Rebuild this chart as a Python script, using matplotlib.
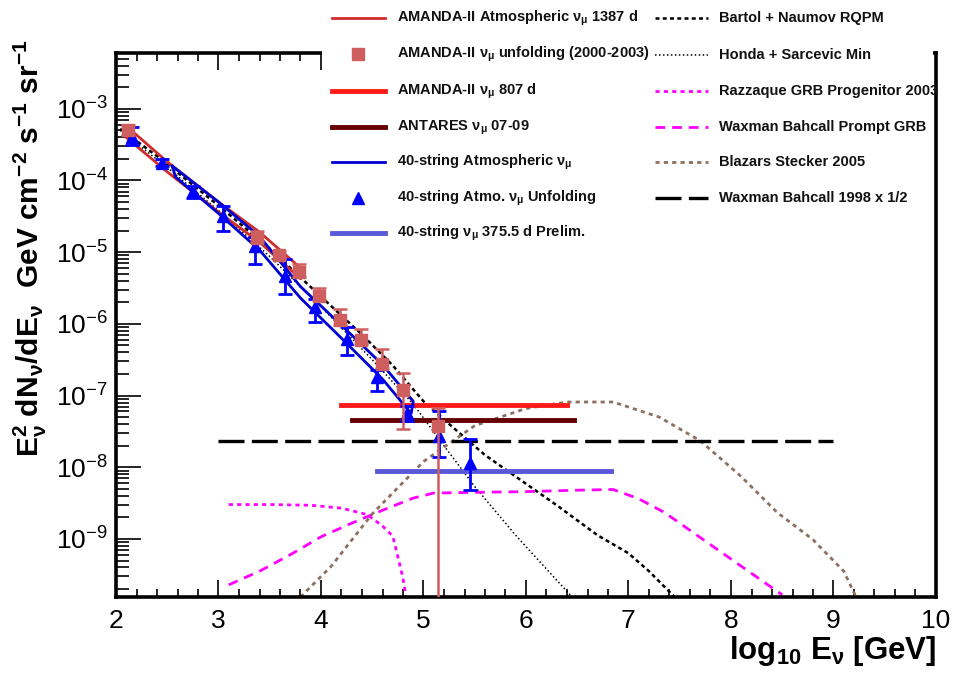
import numpy as np
import matplotlib
matplotlib.use("Agg")
import matplotlib.pyplot as plt
from matplotlib.lines import Line2D
from matplotlib.patches import Rectangle
from matplotlib.ticker import FixedLocator, LogLocator, MultipleLocator, NullFormatter, LogFormatterMathtext

plt.rcParams['font.family'] = ['Liberation Sans', 'DejaVu Sans']
plt.rcParams['mathtext.fontset'] = 'custom'
plt.rcParams['mathtext.rm'] = 'Liberation Sans'
plt.rcParams['mathtext.it'] = 'Liberation Sans'
plt.rcParams['mathtext.bf'] = 'Liberation Sans:bold'
plt.rcParams['mathtext.default'] = 'regular'

# ---------------- data (x = log10 E/GeV, y = log10 flux) ----------------
amanda_atm_x = [2.1, 2.5, 3.0, 3.4, 3.8]
amanda_atm_up = [-3.24, -3.74, -4.30, -4.72, -5.22]
amanda_atm_lo = [-3.40, -3.88, -4.44, -4.86, -5.37]

ic40_atm_x_up = [2.55, 3.0, 3.4, 3.8, 4.2, 4.6, 4.9]
ic40_atm_up = [-3.80, -4.30, -4.78, -5.48, -6.02, -6.57, -7.08]
ic40_atm_x_lo = [2.58, 3.0, 3.4, 3.8, 4.2, 4.6, 4.88]
ic40_atm_lo = [-3.95, -4.46, -4.97, -5.64, -6.20, -6.77, -7.25]

amanda_unf_x = [2.12, 3.38, 3.59, 3.79, 3.98, 4.19, 4.39, 4.60, 4.80, 5.14]
amanda_unf_y = [-3.30, -4.80, -5.04, -5.28, -5.61, -5.95, -6.22, -6.56, -6.92, -7.42]
amanda_unf_hi = [-3.22, -4.70, -4.99, -5.17, -5.50, -5.79, -6.07, -6.35, -6.69, -7.18]
amanda_unf_lo = [-3.36, -4.86, -5.10, -5.34, -5.67, -6.01, -6.28, -6.62, -7.46, -12.0]

ic40_unf_x = [2.16, 2.45, 2.75, 3.04, 3.36, 3.65, 3.94, 4.25, 4.55, 4.84, 5.15, 5.45]
ic40_unf_y = [-3.40, -3.75, -4.15, -4.50, -4.92, -5.33, -5.76, -6.21, -6.74, -7.25, -7.57, -7.94]
ic40_unf_hi = [-3.25, -3.70, -4.08, -4.36, -4.79, -5.10, -5.65, -6.04, -6.65, -7.15, -7.22, -7.61]
ic40_unf_lo = [-3.50, -3.80, -4.24, -4.71, -5.17, -5.58, -5.97, -6.43, -6.94, -7.36, -7.85, -8.32]

amanda807_x = [4.2, 6.4]
amanda807_y = 7.4e-8
antares_x = [4.3, 6.47]
antares_y = 4.6e-8
ic40_lim_x = [4.55, 6.83]
ic40_lim_y = 8.9e-9
wb98_x = [3.0, 9.0]
wb98_y = 2.35e-8

bartol_x = [2.04, 2.4, 3.0, 3.5, 4.0, 4.4, 4.7, 5.0, 5.3, 5.6, 5.9, 6.3, 6.7, 7.0, 7.2, 7.45]
bartol_y = [-3.28, -3.66, -4.35, -4.95, -5.62, -6.15, -6.58, -7.08, -7.46, -7.83, -8.13, -8.53, -8.95, -9.2, -9.45, -9.81]

honda_x = [2.04, 2.5, 3.0, 3.5, 4.0, 4.5, 4.9, 5.2, 5.5, 5.9, 6.2, 6.45]
honda_y = [-3.30, -3.82, -4.42, -5.06, -5.76, -6.50, -7.12, -7.70, -8.27, -8.95, -9.42, -9.81]

razz_x = [3.1, 3.5, 3.9, 4.2, 4.45, 4.6, 4.7, 4.75, 4.8, 4.83]
razz_y = [-8.52, -8.52, -8.53, -8.57, -8.66, -8.82, -8.96, -9.25, -9.55, -9.81]

wbgrb_x = [3.1, 3.4, 3.7, 4.0, 4.3, 4.6, 4.9, 5.1, 5.5, 6.0, 6.5, 6.85, 7.1, 7.35, 7.6, 7.9, 8.2, 8.5]
wbgrb_y = [-9.64, -9.45, -9.22, -8.97, -8.78, -8.60, -8.43, -8.36, -8.35, -8.34, -8.32, -8.31, -8.44, -8.63, -8.88, -9.18, -9.48, -9.78]

blazar_x = [3.8, 4.1, 4.5, 5.0, 5.5, 6.0, 6.4, 6.85, 7.0, 7.3, 7.7, 8.1, 8.45, 8.8, 9.1, 9.22]
blazar_y = [-9.81, -9.38, -8.65, -7.92, -7.42, -7.18, -7.09, -7.09, -7.16, -7.30, -7.63, -8.13, -8.63, -9.01, -9.45, -9.81]

xticks = [2, 3, 4, 5, 6, 7, 8, 9, 10]
yticks = [1e-9, 1e-8, 1e-7, 1e-6, 1e-5, 1e-4, 1e-3]

labels_left = [r"AMANDA-II Atmospheric $\nu_{\mu}$ 1387 d",
               r"AMANDA-II $\nu_{\mu}$ unfolding (2000-2003)",
               r"AMANDA-II $\nu_{\mu}$ 807 d",
               r"ANTARES $\nu_{\mu}$ 07-09",
               r"40-string Atmospheric $\nu_{\mu}$",
               r"40-string Atmo. $\nu_{\mu}$ Unfolding",
               r"40-string $\nu_{\mu}$ 375.5 d Prelim."]
labels_right = ["Bartol + Naumov RQPM",
                "Honda + Sarcevic Min",
                "Razzaque GRB Progenitor 2003",
                "Waxman Bahcall Prompt GRB",
                "Blazars Stecker 2005",
                "Waxman Bahcall 1998 x 1/2"]

# ---------------- styles ----------------
C_AMATM = '#d02c2c'
C_AMUNF = '#cf5f5f'
C_AM807 = '#ff1a1a'
C_ANT = '#660000'
C_IC = '#0000d0'
C_ICTRI = '#0000ff'
C_ICLIM = '#5858d8'
C_MAG = '#ff00ff'
C_BLZ = '#8c7060'

W, H = 954, 675
fig = plt.figure(figsize=(W / 100, H / 100), dpi=100)
ax = fig.add_axes([116 / W, 78 / H, 820 / W, 544 / H])

def p(v):
    return 10 ** np.asarray(v, dtype=float)

# theory curves
ax.plot(honda_x, p(honda_y), color='black', lw=1.1, ls=(0, (1, 1.6)), zorder=2)
ax.plot(bartol_x, p(bartol_y), color='black', lw=1.8, ls=(0, (1.6, 1.3)), zorder=2)
ax.plot(razz_x, p(razz_y), color=C_MAG, lw=2, ls=(0, (1.5, 1.5)), zorder=2)
ax.plot(wbgrb_x, p(wbgrb_y), color=C_MAG, lw=2, ls=(0, (3.5, 2.5)), zorder=2)
ax.plot(blazar_x, p(blazar_y), color=C_BLZ, lw=2, ls=(0, (1.5, 1.5)), zorder=2)
ax.plot(wb98_x, [wb98_y, wb98_y], color='black', lw=2.4, ls=(0, (7.8, 2.2)), zorder=2)

# limits
ax.plot(amanda807_x, [amanda807_y] * 2, color=C_AM807, lw=3.5, zorder=3)
ax.plot(antares_x, [antares_y] * 2, color=C_ANT, lw=3.5, zorder=3)
ax.plot(ic40_lim_x, [ic40_lim_y] * 2, color=C_ICLIM, lw=3.5, zorder=3)

# bands (outlined)
ax.plot(np.r_[amanda_atm_x, amanda_atm_x[::-1], amanda_atm_x[0]],
        p(np.r_[amanda_atm_up, amanda_atm_lo[::-1], amanda_atm_up[0]]),
        color=C_AMATM, lw=2, zorder=3)
ax.plot(np.r_[ic40_atm_x_up, ic40_atm_x_lo[::-1], ic40_atm_x_up[0]],
        p(np.r_[ic40_atm_up, ic40_atm_lo[::-1], ic40_atm_up[0]]),
        color=C_IC, lw=2, zorder=4)

# IC40 unfolding
iy = p(ic40_unf_y)
ax.errorbar(ic40_unf_x, iy, yerr=[iy - p(ic40_unf_lo), p(ic40_unf_hi) - iy],
            fmt='none', ecolor=C_ICTRI, elinewidth=2, capsize=5, capthick=2, zorder=5)
ax.plot(ic40_unf_x, iy, ls='none', marker='^', ms=8, color=C_ICTRI, zorder=5.1)

# AMANDA unfolding
ay = p(amanda_unf_y)
ax.errorbar(amanda_unf_x, ay, yerr=[ay - p(amanda_unf_lo), p(amanda_unf_hi) - ay],
            fmt='none', ecolor=C_AMUNF, elinewidth=1.8, capsize=5, capthick=1.8, zorder=5.2)
ax.plot(amanda_unf_x, ay, ls='none', marker='s', ms=9, color=C_AMUNF, zorder=5.3)

ax.set_xlim(2, 10)
ax.set_yscale('log')
ax.set_ylim(1.55e-10, 6e-3)

ax.xaxis.set_minor_locator(MultipleLocator(0.2))
ax.set_xticks(xticks)
ax.set_xticklabels([str(t) for t in xticks])
ax.yaxis.set_major_locator(FixedLocator(yticks))
ax.yaxis.set_minor_locator(LogLocator(base=10, subs=np.arange(2, 10), numticks=50))
ax.yaxis.set_major_formatter(LogFormatterMathtext())
ax.yaxis.set_minor_formatter(NullFormatter())

ax.tick_params(axis='x', which='both', direction='in', top=True, bottom=True, width=1.2, labelsize=19, pad=9)
ax.tick_params(axis='x', which='major', length=12)
ax.tick_params(axis='x', which='minor', length=6)
ax.tick_params(axis='y', which='both', direction='in', left=True, right=False, width=1.2, labelsize=19, pad=6)
ax.tick_params(axis='y', which='major', length=18)
ax.tick_params(axis='y', which='minor', length=9)
for s in ax.spines.values():
    s.set_linewidth(2.6)

ax.set_ylabel(r"E$_{\nu}^{2}$ dN$_{\nu}$/dE$_{\nu}$  GeV cm$^{-2}$ s$^{-1}$ sr$^{-1}$",
              fontsize=21.5, fontweight='bold', loc='top')
ax.yaxis.set_label_coords(-0.082, 1.024)
ax.set_xlabel(r"log$_{10}$ E$_{\nu}$ [GeV]", fontsize=22.5, fontweight='bold', loc='right')
ax.xaxis.set_label_coords(1.0, -0.068)

# ---------------- legend (drawn in figure pixel positions) ----------------
def fx(px):
    return px / W

def fy(py):
    return 1 - py / H

fig.add_artist(Rectangle((fx(322), fy(250)), fx(933) - fx(322), fy(0) - fy(250),
                         transform=fig.transFigure, facecolor='white', edgecolor='none', zorder=5))

rows_left = [18, 54, 91, 127, 162, 198, 233]
rows_right = [18, 55, 91, 127, 162, 198]

left_styles = [dict(color=C_AMATM, lw=2),
               dict(marker='s', ms=9, color=C_AMUNF, ls='none'),
               dict(color=C_AM807, lw=3.5),
               dict(color=C_ANT, lw=3.5),
               dict(color=C_IC, lw=2),
               dict(marker='^', ms=8, color=C_ICTRI, ls='none'),
               dict(color=C_ICLIM, lw=3.5)]
right_styles = [dict(color='black', lw=1.8, ls=(0, (1.6, 1.3))),
                dict(color='black', lw=1.1, ls=(0, (1, 1.6))),
                dict(color=C_MAG, lw=2, ls=(0, (1.5, 1.5))),
                dict(color=C_MAG, lw=2, ls=(0, (3.5, 2.5))),
                dict(color=C_BLZ, lw=2, ls=(0, (1.5, 1.5))),
                dict(color='black', lw=2.4, ls=(0, (7.8, 2.2)))]

for lab, y, st in zip(labels_left, rows_left, left_styles):
    if st.get('ls') == 'none':
        fig.add_artist(Line2D([fx(358)], [fy(y)], transform=fig.transFigure, zorder=6, **st))
    else:
        fig.add_artist(Line2D([fx(332), fx(385)], [fy(y), fy(y)], transform=fig.transFigure, zorder=6, **st))
    fig.text(fx(397), fy(y + 4), lab, fontsize=10.5, fontweight='bold', va='baseline', ha='left',
             color='#111111', zorder=6)

for lab, y, st in zip(labels_right, rows_right, right_styles):
    fig.add_artist(Line2D([fx(655), fx(708)], [fy(y), fy(y)], transform=fig.transFigure, zorder=6, **st))
    fig.text(fx(719), fy(y + 4), lab, fontsize=10.5, fontweight='bold', va='baseline', ha='left',
             color='#111111', zorder=6)

fig.savefig('out.png', dpi=100, facecolor='white')
